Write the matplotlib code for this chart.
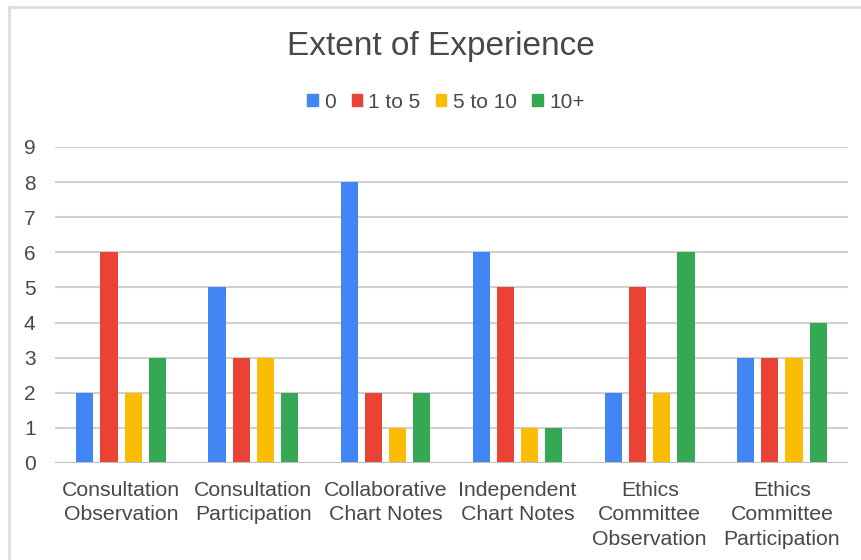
import matplotlib
matplotlib.use("Agg")
import matplotlib.pyplot as plt
from matplotlib.patches import Rectangle
import numpy as np

categories = ["Consultation\nObservation", "Consultation\nParticipation",
              "Collaborative\nChart Notes", "Independent\nChart Notes",
              "Ethics\nCommittee\nObservation", "Ethics\nCommittee\nParticipation"]
series_names = ["0", "1 to 5", "5 to 10", "10+"]
vals_0 = [2, 5, 8, 6, 2, 3]
vals_1_5 = [6, 3, 2, 5, 5, 3]
vals_5_10 = [2, 3, 1, 1, 2, 3]
vals_10p = [3, 2, 2, 1, 6, 4]
colors = ["#4285F4", "#EA4335", "#FBBC04", "#34A853"]
yticks = list(range(0, 10))

plt.rcParams['font.family'] = ['Liberation Sans', 'DejaVu Sans']

fig = plt.figure(figsize=(8.62, 5.60), dpi=100)
ax = fig.add_axes([55/862, 1-463/560, (848-55)/862, (463-147)/560])

x = np.arange(len(categories))
step = 0.183
width = 0.13
all_series = [vals_0, vals_1_5, vals_5_10, vals_10p]
for i, (name, vals, c) in enumerate(zip(series_names, all_series, colors)):
    ax.bar(x + (i - 1.5) * step, vals, width, color=c, label=name, zorder=3)

ax.set_xlim(-0.5, len(categories) - 0.5)
ax.set_ylim(0, 9)
ax.set_yticks(yticks)
ax.set_yticklabels([str(t) for t in yticks], fontsize=15, color="#484848")
ax.set_xticks(x)
ax.set_xticklabels(categories, fontsize=15.3, color="#484848", linespacing=1.35)
ax.tick_params(axis='both', length=0)
ax.tick_params(axis='x', pad=13)
ax.tick_params(axis='y', pad=14)
ax.grid(axis='y', color="#d0d0d0", linewidth=1.5, zorder=0)
for s in ax.spines.values():
    s.set_visible(False)
ax.axhline(0, color="#c0c0c0", linewidth=1.5, zorder=4)

fig.text(441/862, 1-55/560, "Extent of Experience", ha='center', va='baseline',
         fontsize=24, color="#484848")

handles = [Rectangle((0, 0), 1, 1, color=c) for c in colors]
leg = fig.legend(handles, series_names, loc='center', bbox_to_anchor=(446/862, 1-102/560),
                 ncol=4, frameon=False, fontsize=15, handlelength=0.5, handleheight=0.5,
                 handletextpad=0.3, columnspacing=0.75, labelcolor="#484848")

# frame on left and top
fig.add_artist(plt.Line2D([9/862, 9/862], [0, 1-7/560], color="#dddddd", lw=2, transform=fig.transFigure))
fig.add_artist(plt.Line2D([9/862, 1], [1-7/560, 1-7/560], color="#dddddd", lw=2, transform=fig.transFigure))

fig.savefig("out.png", dpi=100)
